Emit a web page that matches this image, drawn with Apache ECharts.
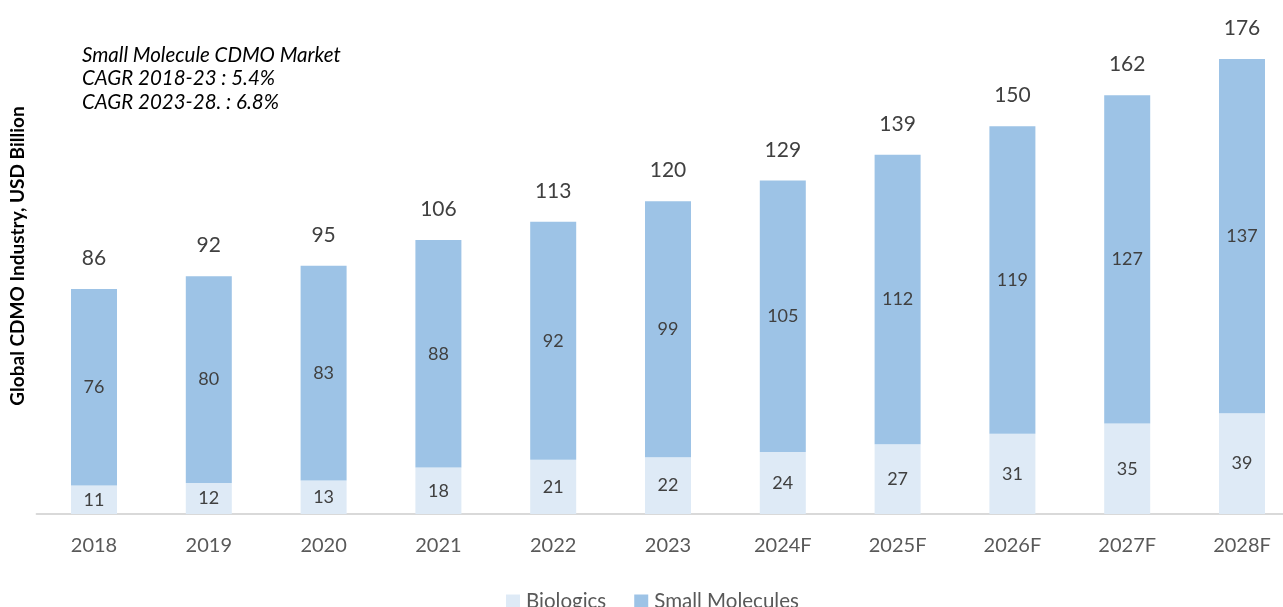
<!DOCTYPE html>
<html>
<head>
<meta charset="utf-8">
<script src="https://cdn.jsdelivr.net/npm/echarts@6/dist/echarts.min.js"></script>
<style>
  html, body { margin: 0; padding: 0; background: #ffffff; overflow: hidden; }
  #chart { width: 1300px; height: 607px; }
</style>
</head>
<body>
<div id="chart"></div>
<script>
// Global CDMO industry, USD billion, split by modality
const years = ['2018', '2019', '2020', '2021', '2022', '2023', '2024F', '2025F', '2026F', '2027F', '2028F'];
const biologics = [11, 12, 13, 18, 21, 22, 24, 27, 31, 35, 39];
const smallMolecules = [76, 80, 83, 88, 92, 99, 105, 112, 119, 127, 137];
const totals = [86, 92, 95, 106, 113, 120, 129, 139, 150, 162, 176];
const noteLines = ['Small Molecule CDMO Market', 'CAGR 2018-23 : 5.4%', 'CAGR 2023-28. : 6.8%'];

const FONT = 'Lato, "Open Sans", sans-serif';
// the plot runs slightly past the right edge of the visible page
const chart = echarts.init(document.getElementById('chart'), null, { renderer: 'canvas' });

const segLabel = {
  show: true,
  position: 'inside',
  color: '#404040',
  fontSize: 18,
  fontFamily: FONT
};

chart.setOption({
  animation: false,
  backgroundColor: '#ffffff',
  grid: { left: 36.6, right: 0.6, top: 59, bottom: 93, containLabel: false },
  legend: {
    data: ['Biologics', 'Small Molecules'],
    left: 501,
    top: 586,
    itemWidth: 14,
    itemHeight: 14,
    itemGap: 28,
    icon: 'rect',
    textStyle: { color: '#595959', fontSize: 20.5, fontFamily: FONT, padding: [0, 0, 0, 1] }
  },
  xAxis: {
    type: 'category',
    data: years,
    axisLine: { show: true, lineStyle: { color: '#d9d9d9', width: 2 } },
    axisTick: { show: false },
    axisLabel: { color: '#595959', fontSize: 20, fontFamily: FONT, margin: 22 }
  },
  yAxis: {
    type: 'value',
    min: 0,
    max: 176,
    show: false,
    splitLine: { show: false }
  },
  series: [
    {
      name: 'Biologics',
      type: 'bar',
      stack: 'total',
      barWidth: 46,
      data: biologics,
      itemStyle: { color: '#deeaf6' },
      label: segLabel
    },
    {
      name: 'Small Molecules',
      type: 'bar',
      stack: 'total',
      barWidth: 46,
      data: smallMolecules,
      itemStyle: { color: '#9dc3e6' },
      label: segLabel
    },
    {
      name: 'Total',
      type: 'bar',
      stack: 'total',
      barWidth: 46,
      data: totals.map(() => 0),
      itemStyle: { color: 'transparent' },
      silent: true,
      label: {
        show: true,
        position: 'top',
        distance: 20,
        color: '#404040',
        fontSize: 21,
        fontFamily: FONT,
        formatter: (p) => String(totals[p.dataIndex])
      }
    }
  ],
  graphic: [
    ...noteLines.map((t, i) => ({
      type: 'text',
      x: 82,
      y: 55 + i * 23.5,
      style: {
        text: t,
        fill: '#000000',
        font: 'italic 20.5px ' + FONT,
        verticalAlign: 'middle'
      }
    })),
    {
      type: 'text',
      x: 18,
      y: 256,
      rotation: Math.PI / 2,
      style: {
        text: 'Global CDMO Industry, USD Billion',
        fill: '#000000',
        font: 'bold 19px ' + FONT,
        align: 'center',
        verticalAlign: 'middle'
      }
    }
  ]
});
</script>
</body>
</html>
